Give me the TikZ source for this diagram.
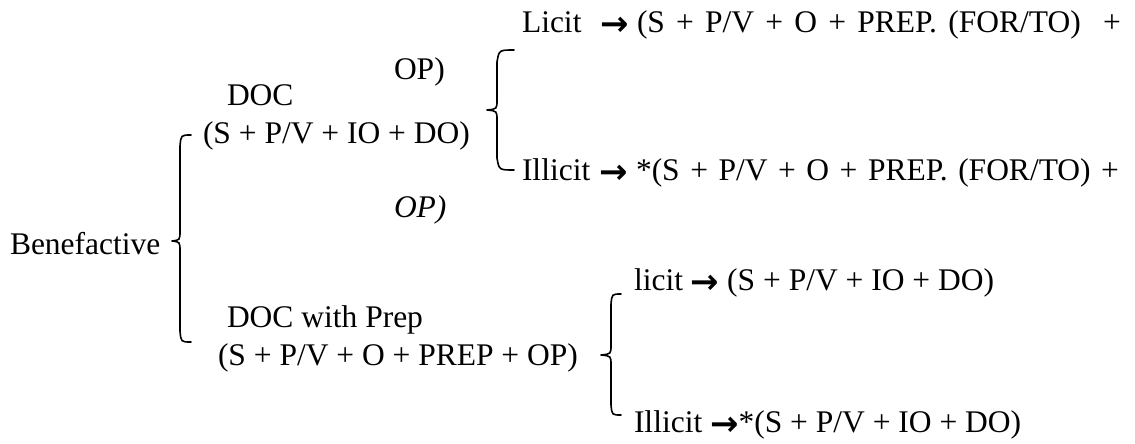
\documentclass[tikz,border=0pt]{standalone}
\usepackage{fontspec}
\setmainfont{Liberation Serif}
\newfontfamily\arrowfont{DejaVu Sans}
\newcommand{\rarr}{\raisebox{-3pt}[0pt][0pt]{\arrowfont\bfseries\fontsize{34}{36}\selectfont →}}
\tikzset{
  txt/.style={anchor=base west, inner sep=0pt, outer sep=0pt, font=\fontsize{31.5}{36}\selectfont},
  brace/.style={line width=1.6pt, line cap=round, line join=round},
}
\begin{document}
\begin{tikzpicture}[x=1pt,y=-1pt]
\useasboundingbox (0,0) rectangle (1135,444);
% texts
\node[txt] (lic1) at (522,33) {\makebox[78pt][l]{Licit}\makebox[37pt][l]{\rarr}\makebox[484pt][s]{(S + P/V + O + PREP. (FOR/TO)\ \ +}};
\node[txt] (op1) at (394,80) {OP)};
\node[txt] (doc) at (227,106) {DOC};
\node[txt] (docf) at (203,143) {(S + P/V + IO + DO)};
\node[txt] (ill1) at (522,180) {\makebox[77pt][l]{Illicit}\makebox[37pt][l]{\rarr}\makebox[483pt][s]{*(S + P/V + O + PREP. (FOR/TO) +}};
\node[txt] (op2) at (394,217) {\textit{OP)}};
\node[txt] (ben) at (10,254) {Benefactive};
\node[txt] (lic2) at (634,290) {licit \rarr\ (S + P/V + IO + DO)};
\node[txt] (docp) at (227,327) {DOC with Prep};
\node[txt] (docpf) at (218,365) {(S + P/V + O + PREP + OP)};
\node[txt] (ill2) at (634,432) {Illicit \rarr*(S + P/V + IO + DO)};
% big brace
\coordinate (bA) at (191,135);
\coordinate (bB) at (191,342);
\coordinate (bT) at (172,241);
\draw[brace] (bA) .. controls (181,135) .. (180,146) -- (180,231)
  .. controls (180,240) .. (bT) .. controls (180,242) .. (180,251)
  -- (180,331) .. controls (181,342) .. (bB);
% upper small brace
\coordinate (cA) at (514,50);
\coordinate (cB) at (514,170);
\coordinate (cT) at (487,110);
\draw[brace] (cA) .. controls (499,50) .. (497,62) -- (497,100)
  .. controls (497,109) .. (cT) .. controls (497,111) .. (497,120)
  -- (497,158) .. controls (499,170) .. (cB);
% lower small brace
\coordinate (dA) at (621,294);
\coordinate (dB) at (621,415);
\coordinate (dT) at (601,355);
\draw[brace] (dA) .. controls (612,294) .. (611,304) -- (611,345)
  .. controls (611,354) .. (dT) .. controls (611,356) .. (611,365)
  -- (611,405) .. controls (612,415) .. (dB);
\end{tikzpicture}
\end{document}
